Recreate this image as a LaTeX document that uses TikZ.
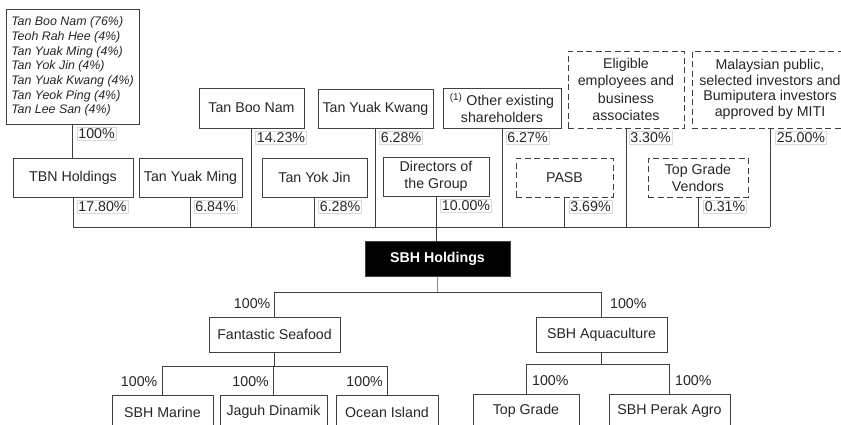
\documentclass[tikz,border=0pt]{standalone}
\usepackage{fontspec}
\setmainfont{Liberation Sans}
\usepackage{tikz}
\usetikzlibrary{calc}
\tikzset{
	entity/.style={draw=black!75, line width=1pt, text=black!85, align=center, inner sep=2pt, font=\fontsize{14.2}{17}\selectfont},
	proposed/.style={entity, dash pattern=on 6pt off 3.5pt},
	share/.style={draw=black!15, line width=0.8pt, text=black!85, inner sep=1.5pt, anchor=north west, font=\fontsize{14.2}{17}\selectfont},
	subshare/.style={text=black!85, inner sep=0pt, font=\fontsize{14.2}{17}\selectfont},
	link/.style={draw=black!75, line width=1pt},
}

\begin{document}
\begin{tikzpicture}[x=1pt,y=-1pt]
		\useasboundingbox (0,0) rectangle (841,424);
		\clip (0,0) rectangle (841,424);
		\coordinate (bus) at (0,227);
		\coordinate (sbhbus) at (0,292);
		\coordinate (fsbus) at (0,366);
		\coordinate (sabus) at (0,364);
		\node[entity, align=left, minimum width=133pt, minimum height=115pt, font=\fontsize{12.4}{14.7}\selectfont\itshape] (owners) at (72.5,66.5) {Tan Boo Nam (76\%)\\Teoh Rah Hee (4\%)\\Tan Yuak Ming (4\%)\\Tan Yok Jin (4\%)\\Tan Yuak Kwang (4\%)\\Tan Yeok Ping (4\%)\\Tan Lee San (4\%)};
		\node[entity, minimum width=105pt, minimum height=40pt] (tbn) at (251.5,108) {Tan Boo Nam};
		\node[entity, minimum width=115pt, minimum height=39pt] (tyk) at (375.5,108.5) {Tan Yuak Kwang};
		\node[entity, minimum width=118pt, minimum height=40pt] (other) at (502,108) {\textsuperscript{(1)} Other existing\\shareholders};
		\node[proposed, minimum width=116pt, minimum height=77pt, font=\fontsize{14.2}{17.5}\selectfont] (elig) at (626,89.5) {Eligible\\employees and\\business\\associates};
		\node[proposed, minimum width=156pt, minimum height=77pt, font=\fontsize{14.2}{15.5}\selectfont] (mal) at (770,89.5) {Malaysian public,\\selected investors and\\Bumiputera investors\\approved by MITI};
		\node[entity, minimum width=120pt, minimum height=39pt] (tbnh) at (73,177.5) {TBN Holdings};
		\node[entity, minimum width=103pt, minimum height=39pt] (tym) at (190.5,177.5) {Tan Yuak Ming};
		\node[entity, minimum width=105pt, minimum height=39pt] (tyj) at (314.5,177.5) {Tan Yok Jin};
		\node[entity, minimum width=106pt, minimum height=39pt] (dir) at (436,176.5) {Directors of\\the Group};
		\node[proposed, minimum width=97pt, minimum height=39pt] (pasb) at (564.5,177.5) {PASB};
		\node[proposed, minimum width=100pt, minimum height=39pt] (tgv) at (698,177.5) {Top Grade\\Vendors};
		\node[entity, fill=black, text=white, minimum width=145pt, minimum height=35pt, font=\fontsize{14.2}{17}\selectfont\bfseries] (sbh) at (437.5,258.5) {SBH Holdings};
		\node[entity, minimum width=131pt, minimum height=35pt] (fs) at (274.5,334.5) {Fantastic Seafood};
		\node[entity, minimum width=131pt, minimum height=35pt] (sa) at (601.5,334.5) {SBH Aquaculture};
		\node[entity, minimum width=101pt, minimum height=34pt] (sbhm) at (162.5,412) {SBH Marine};
		\node[entity, minimum width=107pt, minimum height=34pt] (jd) at (273.5,412) {Jaguh Dinamik};
		\node[entity, minimum width=102pt, minimum height=34pt] (oi) at (387,412) {Ocean Island};
		\node[entity, minimum width=106pt, minimum height=34pt] (tg) at (526,411) {Top Grade};
		\node[entity, minimum width=121pt, minimum height=34pt] (spa) at (669.5,411) {SBH Perak Agro};
		\draw[link] (owners.south) -- (owners.south |- tbnh.north);
		\draw[link] (tbnh.south) -- (tbnh.south |- bus) -- (mal.south |- bus);
		\foreach \n in {tym,tbn,tyk,other,tyj,pasb,elig,tgv,mal}
			\draw[link] (\n.south) -- (\n.south |- bus);
		\draw[link] (dir.south) -- (dir.south |- sbh.north);
		\draw[draw=black!45, line width=1pt] (sbh.south) -- (sbh.south |- sbhbus);
		\draw[link] (fs.north) -- (fs.north |- sbhbus) -- (sa.north |- sbhbus) -- (sa.north);
		\draw[link] (fs.south) -- (fs.south |- fsbus);
		\draw[link] (sbhm.north) -- (sbhm.north |- fsbus) -- (oi.north |- fsbus) -- (oi.north);
		\draw[link] (jd.north) -- (jd.north |- fsbus);
		\draw[link] (sa.south) -- (sa.south |- sabus);
		\draw[link] (tg.north) -- (tg.north |- sabus) -- (spa.north |- sabus) -- (spa.north);
		\node[share] (pOwners) at ([xshift=4pt,yshift=-2pt]owners.south) {100\%};
		\node[share] (pTbnh) at ([xshift=3.5pt,yshift=-2pt]tbnh.south) {17.80\%};
		\node[share] (pTym) at ([xshift=3pt,yshift=-2pt]tym.south) {6.84\%};
		\node[share] (pTbn) at ([xshift=3.5pt,yshift=-2pt]tbn.south) {14.23\%};
		\node[share] (pTyk) at ([xshift=3.5pt,yshift=-2pt]tyk.south) {6.28\%};
		\node[share] (pOther) at ([xshift=3.5pt,yshift=-2pt]other.south) {6.27\%};
		\node[share] (pTyj) at ([xshift=3.5pt,yshift=-2pt]tyj.south) {6.28\%};
		\node[share] (pDir) at ([xshift=4pt,yshift=-2pt]dir.south) {10.00\%};
		\node[share] (pPasb) at ([xshift=4pt,yshift=-2pt]pasb.south) {3.69\%};
		\node[share] (pElig) at ([xshift=2.5pt,yshift=-2pt]elig.south) {3.30\%};
		\node[share] (pTgv) at ([xshift=5pt,yshift=-2pt]tgv.south) {0.31\%};
		\node[share] (pMal) at ([xshift=5pt,yshift=-2pt]mal.south) {25.00\%};
		\node[subshare, anchor=east] (pFs) at ($ (fs.north) + (-4,-13) $) {100\%};
		\node[subshare, anchor=west] (pSa) at ($ (sa.north) + (8.5,-13) $) {100\%};
		\node[subshare, anchor=east] (pSbhm) at ($ (sbhm.north) + (-5,-13) $) {100\%};
		\node[subshare, anchor=east] (pJd) at ($ (jd.north) + (-4.5,-13) $) {100\%};
		\node[subshare, anchor=east] (pOi) at ($ (oi.north) + (-4,-13) $) {100\%};
		\node[subshare, anchor=west] (pTg) at ($ (tg.north) + (6,-13) $) {100\%};
		\node[subshare, anchor=west] (pSpa) at ($ (spa.north) + (5.5,-13) $) {100\%};
	\end{tikzpicture}
\end{document}
